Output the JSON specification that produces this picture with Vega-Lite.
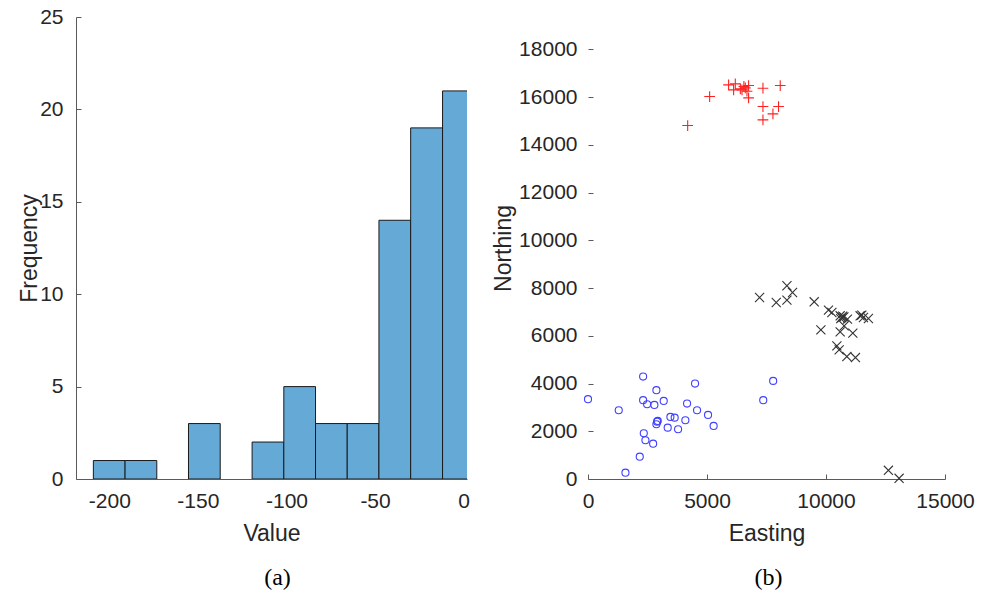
{
  "$schema": "https://vega.github.io/schema/vega-lite/v6.json",
  "background": "white",
  "padding": {"left": 18, "top": 6, "right": 5, "bottom": 0},
  "bounds": "flush",
  "spacing": 121,
  "config": {
    "view": {"stroke": null},
    "font": "Liberation Sans",
    "axis": {
      "labelFont": "Liberation Sans",
      "labelFontSize": 21,
      "labelColor": "#262626",
      "labelFlush": false,
      "titleFont": "Liberation Sans",
      "titleFontSize": 23,
      "titleFontWeight": "normal",
      "titleColor": "#262626",
      "domainColor": "#5a5a5a",
      "tickColor": "#5a5a5a",
      "grid": false,
      "tickSize": -5,
      "labelPadding": 16
    },
    "axisX": {"titlePadding": 11}
  },
  "hconcat": [
    {
      "width": 391,
      "height": 462,
      "title": {"text": "(a)", "orient": "bottom", "font": "Liberation Serif", "fontSize": 24, "fontWeight": "normal", "color": "#000000", "frame": "group", "anchor": "middle", "offset": 21, "dx": 6},
      "data": {"values": [
        {"bin_start": -209.0, "bin_end": -191.1, "count": 1},
        {"bin_start": -191.1, "bin_end": -173.2, "count": 1},
        {"bin_start": -155.3, "bin_end": -137.4, "count": 3},
        {"bin_start": -119.4, "bin_end": -101.5, "count": 2},
        {"bin_start": -101.5, "bin_end": -83.6, "count": 5},
        {"bin_start": -83.6, "bin_end": -65.7, "count": 3},
        {"bin_start": -65.7, "bin_end": -47.8, "count": 3},
        {"bin_start": -47.8, "bin_end": -29.9, "count": 14},
        {"bin_start": -29.9, "bin_end": -11.9, "count": 19},
        {"bin_start": -11.9, "bin_end": 6.0, "count": 21}
      ]},
      "mark": {"type": "rect", "fill": "#65A9D7", "stroke": "#1a1a1a", "strokeWidth": 1, "clip": true},
      "encoding": {
        "x": {"field": "bin_start", "type": "quantitative", "scale": {"domain": [-218.8, 1.9], "nice": false, "zero": false},
              "axis": {"values": [-200, -150, -100, -50, 0], "title": "Value", "labelExpr": "'' + datum.value"}},
        "x2": {"field": "bin_end"},
        "y": {"field": "count", "type": "quantitative", "scale": {"domain": [0, 25], "nice": false},
              "axis": {"values": [0, 5, 10, 15, 20, 25], "title": "Frequency", "labelPadding": 18, "titlePadding": -1.5, "labelExpr": "'' + datum.value"}},
        "y2": {"datum": 0}
      }
    },
    {
      "width": 357,
      "height": 462,
      "title": {"text": "(b)", "orient": "bottom", "font": "Liberation Serif", "fontSize": 24, "fontWeight": "normal", "color": "#000000", "frame": "group", "anchor": "middle", "offset": 21, "dx": 2},
      "layer": [
        {
          "mark": {"type": "rule", "color": "#5a5a5a", "strokeWidth": 1},
          "encoding": {
            "x": {"datum": 0, "type": "quantitative"},
            "y": {"datum": 0, "type": "quantitative"},
            "y2": {"datum": 18000}
          }
        },
        {
          "data": {"values": [
            {"group": "red", "easting": 4188, "northing": 14812},
            {"group": "red", "easting": 5111, "northing": 16029},
            {"group": "red", "easting": 5908, "northing": 16519},
            {"group": "red", "easting": 6189, "northing": 16561},
            {"group": "red", "easting": 6118, "northing": 16309},
            {"group": "red", "easting": 6470, "northing": 16309},
            {"group": "red", "easting": 6609, "northing": 16393},
            {"group": "red", "easting": 6680, "northing": 16252},
            {"group": "red", "easting": 6748, "northing": 16490},
            {"group": "red", "easting": 6748, "northing": 15974},
            {"group": "red", "easting": 7351, "northing": 16377},
            {"group": "red", "easting": 8077, "northing": 16490},
            {"group": "red", "easting": 7351, "northing": 15609},
            {"group": "red", "easting": 8006, "northing": 15609},
            {"group": "red", "easting": 7771, "northing": 15303},
            {"group": "red", "easting": 7351, "northing": 15051},
            {"group": "red", "easting": 6400, "northing": 16350},
            {"group": "red", "easting": 6550, "northing": 16450},
            {"group": "black", "easting": 7209, "northing": 7607},
            {"group": "black", "easting": 8358, "northing": 8098},
            {"group": "black", "easting": 8594, "northing": 7817},
            {"group": "black", "easting": 8358, "northing": 7498},
            {"group": "black", "easting": 7909, "northing": 7398},
            {"group": "black", "easting": 9504, "northing": 7427},
            {"group": "black", "easting": 10104, "northing": 7078},
            {"group": "black", "easting": 10247, "northing": 6978},
            {"group": "black", "easting": 10595, "northing": 6840},
            {"group": "black", "easting": 10666, "northing": 6768},
            {"group": "black", "easting": 10700, "northing": 6820},
            {"group": "black", "easting": 10620, "northing": 6720},
            {"group": "black", "easting": 10750, "northing": 6790},
            {"group": "black", "easting": 10901, "northing": 6701},
            {"group": "black", "easting": 11434, "northing": 6840},
            {"group": "black", "easting": 11573, "northing": 6768},
            {"group": "black", "easting": 11505, "northing": 6869},
            {"group": "black", "easting": 11782, "northing": 6726},
            {"group": "black", "easting": 9785, "northing": 6252},
            {"group": "black", "easting": 10595, "northing": 6168},
            {"group": "black", "easting": 10763, "northing": 6420},
            {"group": "black", "easting": 11127, "northing": 6113},
            {"group": "black", "easting": 10457, "northing": 5581},
            {"group": "black", "easting": 10553, "northing": 5413},
            {"group": "black", "easting": 10876, "northing": 5132},
            {"group": "black", "easting": 11237, "northing": 5090},
            {"group": "black", "easting": 12622, "northing": 365},
            {"group": "black", "easting": 13071, "northing": 30},
            {"group": "blue", "easting": 0, "northing": 3344},
            {"group": "blue", "easting": 1292, "northing": 2882},
            {"group": "blue", "easting": 2316, "northing": 4292},
            {"group": "blue", "easting": 2874, "northing": 3722},
            {"group": "blue", "easting": 2316, "northing": 3302},
            {"group": "blue", "easting": 2484, "northing": 3134},
            {"group": "blue", "easting": 2790, "northing": 3105},
            {"group": "blue", "easting": 3181, "northing": 3273},
            {"group": "blue", "easting": 4498, "northing": 3999},
            {"group": "blue", "easting": 4162, "northing": 3160},
            {"group": "blue", "easting": 4582, "northing": 2882},
            {"group": "blue", "easting": 5044, "northing": 2685},
            {"group": "blue", "easting": 5279, "northing": 2224},
            {"group": "blue", "easting": 3462, "northing": 2602},
            {"group": "blue", "easting": 3642, "northing": 2572},
            {"group": "blue", "easting": 4091, "northing": 2463},
            {"group": "blue", "easting": 2903, "northing": 2404},
            {"group": "blue", "easting": 2874, "northing": 2295},
            {"group": "blue", "easting": 2930, "northing": 2434},
            {"group": "blue", "easting": 3349, "northing": 2153},
            {"group": "blue", "easting": 3785, "northing": 2085},
            {"group": "blue", "easting": 2344, "northing": 1918},
            {"group": "blue", "easting": 2413, "northing": 1624},
            {"group": "blue", "easting": 2736, "northing": 1481},
            {"group": "blue", "easting": 2174, "northing": 936},
            {"group": "blue", "easting": 1574, "northing": 265},
            {"group": "blue", "easting": 7363, "northing": 3302},
            {"group": "blue", "easting": 7780, "northing": 4112}
          ]},
          "mark": {"type": "point", "filled": false, "strokeWidth": 1.1, "opacity": 1, "clip": false},
          "encoding": {
            "x": {"field": "easting", "type": "quantitative", "scale": {"domain": [0, 15000], "nice": false},
                  "axis": {"values": [0, 5000, 10000, 15000], "title": "Easting", "labelExpr": "'' + datum.value"}},
            "y": {"field": "northing", "type": "quantitative", "scale": {"domain": [0, 19362], "nice": false},
                  "axis": {"values": [0, 2000, 4000, 6000, 8000, 10000, 12000, 14000, 16000, 18000], "title": "Northing", "domain": false, "labelPadding": 16, "titlePadding": 3.5, "labelExpr": "'' + datum.value"}},
            "shape": {"field": "group", "type": "nominal", "legend": null,
                      "scale": {"domain": ["red", "black", "blue"], "range": ["M-1,0H1M0,-1V1", "M-1,-1L1,1M-1,1L1,-1", "circle"]}},
            "color": {"field": "group", "type": "nominal", "legend": null,
                      "scale": {"domain": ["red", "black", "blue"], "range": ["#ff2020", "#333333", "#4040ff"]}},
            "size": {"field": "group", "type": "nominal", "legend": null,
                     "scale": {"domain": ["red", "black", "blue"], "range": [115, 50, 150]}}
          }
        }
      ]
    }
  ]
}
